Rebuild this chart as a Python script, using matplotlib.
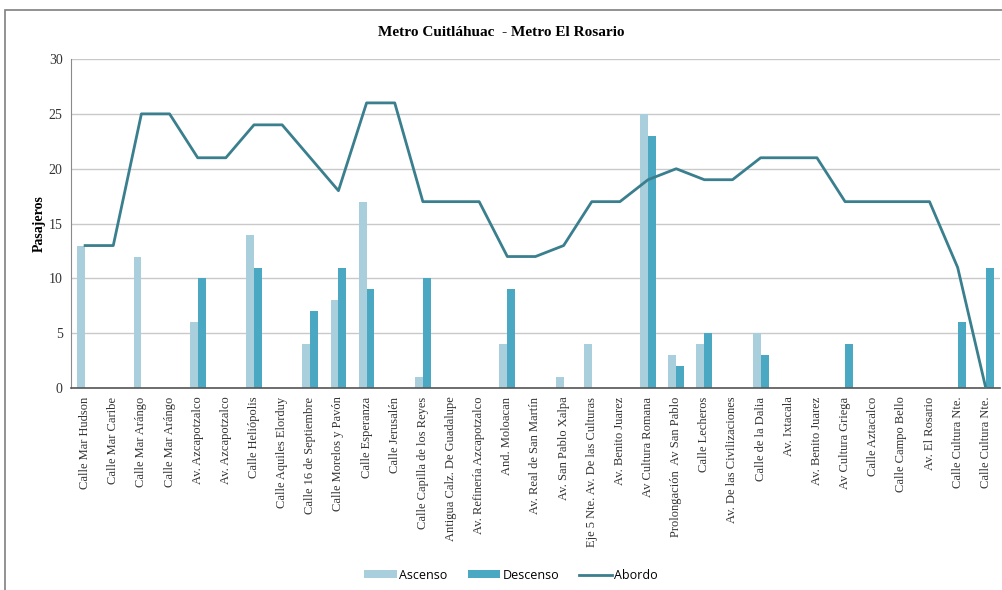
import matplotlib
matplotlib.use("Agg")
import matplotlib.pyplot as plt
import numpy as np
from matplotlib.patches import Rectangle

# Paradas del recorrido
paradas = [
    "Calle Mar Hudson", "Calle Mar Caribe", "Calle Mar Arángo", "Calle Mar Arángo",
    "Av. Azcapotzalco", "Av. Azcapotzalco", "Calle Heliópolis", "Calle Aquiles Elorduy",
    "Calle 16 de Septiembre", "Calle Morelos y Pavón", "Calle Esperanza", "Calle Jerusalén",
    "Calle Capilla de los Reyes", "Antigua Calz. De Guadalupe", "Av. Refinería Azcapotzalco",
    "And. Moloacan", "Av. Real de San Martín", "Av. San Pablo Xalpa",
    "Eje 5 Nte. Av. De las Culturas", "Av. Benito Juarez", "Av Cultura Romana",
    "Prolongación  Av San Pablo", "Calle Lecheros", "Av. De las Civilizaciones",
    "Calle de la Dalia", "Av. Ixtacala", "Av. Benito Juarez", "Av Cultura Griega",
    "Calle Aztacalco", "Calle Campo Bello", "Av. El Rosario", "Calle Cultura Nte.",
    "Calle Cultura Nte.",
]

ascenso = [13, 0, 12, 0, 6, 0, 14, 0, 4, 8, 17, 0, 1, 0, 0, 4, 0, 1, 4, 0,
           25, 3, 4, 0, 5, 0, 0, 0, 0, 0, 0, 0, 0]
descenso = [0, 0, 0, 0, 10, 0, 11, 0, 7, 11, 9, 0, 10, 0, 0, 9, 0, 0, 0, 0,
            23, 2, 5, 0, 3, 0, 0, 4, 0, 0, 0, 6, 11]
abordo = [13, 13, 25, 25, 21, 21, 24, 24, 21, 18, 26, 26, 17, 17, 17, 12, 12, 13,
          17, 17, 19, 20, 19, 19, 21, 21, 21, 17, 17, 17, 17, 11, 0]

c_asc = "#a9cfdc"
c_desc = "#4ba8c3"
c_line = "#3a7f8e"
serif = "Liberation Serif"

fig = plt.figure(figsize=(10.02, 5.9), dpi=100)
ax = fig.add_axes([0.0709, 0.342, 0.927, 0.558])

x = np.arange(len(paradas))
w = 0.28
b1 = ax.bar(x - w / 2, ascenso, w, color=c_asc, label="Ascenso", zorder=2)
b2 = ax.bar(x + w / 2, descenso, w, color=c_desc, label="Descenso", zorder=2)
l1, = ax.plot(x, abordo, color=c_line, lw=2.0, label="Abordo", zorder=3)

ax.set_xlim(-0.5, len(paradas) - 0.5)
ax.set_ylim(0, 30)
ax.set_yticks(range(0, 31, 5))
ax.yaxis.grid(True, color="#c9c9c9", lw=1.0, zorder=0)
ax.set_axisbelow(True)

ax.set_xticks(x)
ax.set_xticklabels(paradas, rotation=90, fontsize=9, family=serif, color="#333333")
for lab in ax.get_yticklabels():
    lab.set_fontfamily(serif)
    lab.set_fontsize(10)
    lab.set_color("#333333")
ax.tick_params(axis="both", length=0, pad=6)

for s in ["top", "right"]:
    ax.spines[s].set_visible(False)
ax.spines["left"].set_color("#8a8a8a")
ax.spines["bottom"].set_color("#555555")
ax.spines["bottom"].set_linewidth(1.2)

ax.set_ylabel("Pasajeros", family=serif, fontsize=10, fontweight="bold", labelpad=2)
fig.text(0.5, 0.945, "Metro Cuitláhuac  - Metro El Rosario", ha="center", va="center",
         family=serif, fontsize=11, fontweight="bold")

fig.legend([b1, b2, l1], ["Ascenso", "Descenso", "Abordo"],
           loc="center", bbox_to_anchor=(0.51, 0.025), ncol=3, frameon=False,
           prop={"family": "Open Sans", "size": 9}, handlelength=2.6,
           handleheight=0.6, columnspacing=1.6, handletextpad=0.2)

# borde exterior del gráfico
fig.patches.append(Rectangle((0.005, -0.1), 1.1, 1.083, transform=fig.transFigure,
                             fill=False, edgecolor="#7f7f7f", lw=1.2))

fig.savefig("out.png", dpi=100)
